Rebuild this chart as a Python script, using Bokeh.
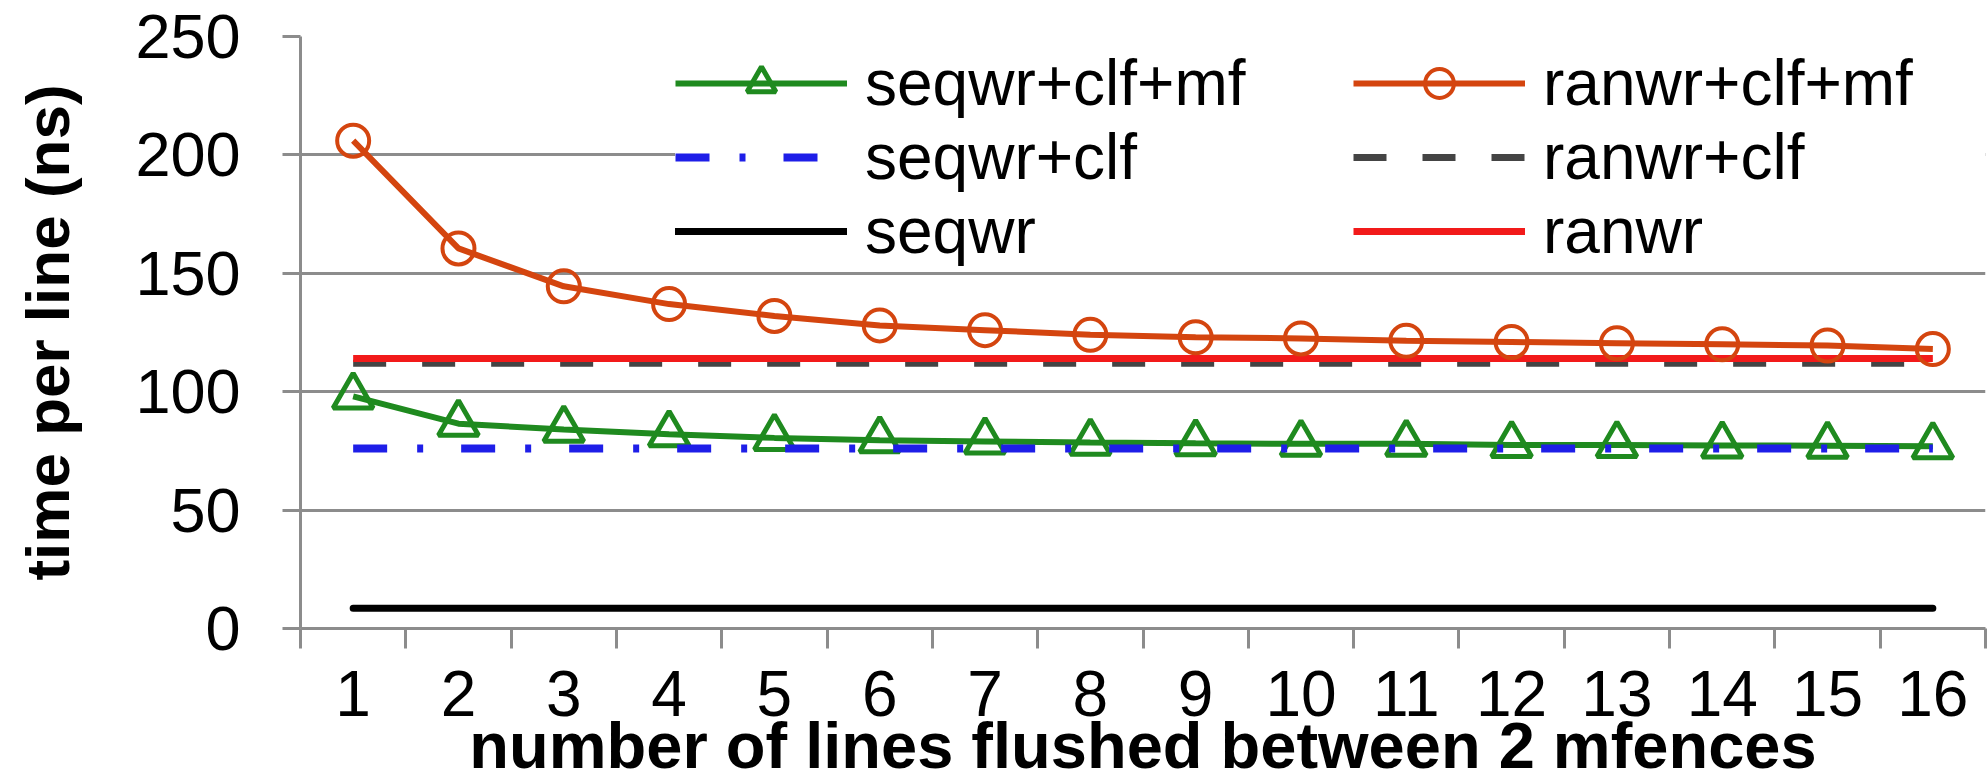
from bokeh.plotting import figure
from bokeh.models import Range1d, FixedTicker, Legend, LegendItem
from bokeh.embed import file_html
from bokeh.resources import INLINE

# ---- data ----
lines_flushed = [1, 2, 3, 4, 5, 6, 7, 8, 9, 10, 11, 12, 13, 14, 15, 16]
seqwr_clf_mf = [98, 86.5, 84, 82, 80.5, 79.5, 79, 78.5, 78.2, 78, 78, 77.5, 77.5, 77.3, 77.2, 77]
ranwr_clf_mf = [206, 160.5, 144.5, 137, 132, 128, 126, 124, 123, 122.5, 121.5, 121, 120.5, 120, 119.5, 118]
seqwr_clf = [76, 76, 76, 76, 76, 76, 76, 76, 76, 76, 76, 76, 76, 76, 76, 76]
ranwr_clf = [112, 112, 112, 112, 112, 112, 112, 112, 112, 112, 112, 112, 112, 112, 112, 112]
seqwr = [8.5, 8.5, 8.5, 8.5, 8.5, 8.5, 8.5, 8.5, 8.5, 8.5, 8.5, 8.5, 8.5, 8.5, 8.5, 8.5]
ranwr = [114, 114, 114, 114, 114, 114, 114, 114, 114, 114, 114, 114, 114, 114, 114, 114]
y_ticks = [0, 50, 100, 150, 200, 250]
x_label = "number of lines flushed between 2 mfences"
y_label = "time per line (ns)"

GREEN = "#1f8a1f"
ORANGE = "#d4450f"
RED = "#f21a1a"
BLUE = "#1e1ee8"
DGRAY = "#444444"
GRID = "#8c8c8c"
FONT = "Liberation Sans"

p = figure(width=1987, height=784, output_backend="svg", toolbar_location=None,
           x_range=Range1d(0.5, 16.5), y_range=Range1d(0, 250),
           min_border_left=300, min_border_right=2, min_border_top=36, min_border_bottom=0)
p.outline_line_color = None
p.xgrid.grid_line_color = None
p.ygrid.grid_line_color = GRID
p.ygrid.grid_line_width = 3
p.ygrid.ticker = FixedTicker(ticks=y_ticks)

# axes
xa = p.xaxis[0]
xa.ticker = FixedTicker(ticks=lines_flushed, minor_ticks=[i - 0.5 for i in lines_flushed] + [16.5])
xa.axis_line_color = GRID
xa.axis_line_width = 3
xa.major_tick_line_color = None
xa.major_tick_out = 0
xa.major_tick_in = 0
xa.minor_tick_line_color = GRID
xa.minor_tick_line_width = 3
xa.minor_tick_out = 20
xa.minor_tick_in = 0
xa.major_label_standoff = 22
xa.major_label_text_font = FONT
xa.major_label_text_font_size = "64px"
xa.major_label_text_color = "black"
xa.axis_label = x_label
xa.axis_label_text_font = FONT
xa.axis_label_text_font_style = "bold"
xa.axis_label_text_font_size = "65px"
xa.axis_label_text_color = "black"
xa.axis_label_standoff = -10

ya = p.yaxis[0]
ya.ticker = FixedTicker(ticks=y_ticks)
ya.axis_line_color = GRID
ya.axis_line_width = 3
ya.major_tick_line_color = GRID
ya.major_tick_line_width = 3
ya.major_tick_out = 18
ya.major_tick_in = 0
ya.minor_tick_line_color = None
ya.major_label_standoff = 42
ya.major_label_text_font = FONT
ya.major_label_text_font_size = "63px"
ya.major_label_text_color = "black"
ya.axis_label = y_label
ya.axis_label_text_font = FONT
ya.axis_label_text_font_style = "bold"
ya.axis_label_text_font_size = "62px"
ya.axis_label_text_color = "black"
ya.axis_label_standoff = 50

# series
r_rclf = p.line(lines_flushed, ranwr_clf, line_color=DGRAY, line_width=7, line_dash="33 36")
r_r = p.line(lines_flushed, ranwr, line_color=RED, line_width=7)
r_rmf_l = p.line(lines_flushed, ranwr_clf_mf, line_color=ORANGE, line_width=6)
r_rmf_m = p.scatter(lines_flushed, ranwr_clf_mf, marker="circle", size=32, line_color=ORANGE,
                    line_width=4, fill_color=None)
r_smf_l = p.line(lines_flushed, seqwr_clf_mf, line_color=GREEN, line_width=6)
r_smf_m = p.scatter(lines_flushed, seqwr_clf_mf, marker="triangle", size=40, line_color=GREEN,
                    line_width=5, fill_color=None)
r_sclf = p.line(lines_flushed, seqwr_clf, line_color=BLUE, line_width=8, line_dash="34 30 6 38")
r_s = p.line(lines_flushed, seqwr, line_color="black", line_width=7, line_cap="round")

legend = Legend(items=[
    LegendItem(label="seqwr+clf+mf", renderers=[r_smf_l, r_smf_m]),
    LegendItem(label="seqwr+clf", renderers=[r_sclf]),
    LegendItem(label="seqwr", renderers=[r_s]),
    LegendItem(label="ranwr+clf+mf", renderers=[r_rmf_l, r_rmf_m]),
    LegendItem(label="ranwr+clf", renderers=[r_rclf]),
    LegendItem(label="ranwr", renderers=[r_r]),
], orientation="vertical", nrows=3, location=(375, 360))
legend.label_text_font = FONT
legend.label_text_font_size = "64px"
legend.label_text_color = "black"
legend.glyph_width = 172
legend.glyph_height = 72
legend.label_height = 72
legend.label_standoff = 18
legend.label_width = 488
legend.spacing = 0
legend.padding = 4
legend.margin = 0
legend.border_line_color = None
legend.background_fill_color = "white"
legend.background_fill_alpha = 1.0
p.add_layout(legend, "center")

open("out.html", "w").write(file_html(p, INLINE))
